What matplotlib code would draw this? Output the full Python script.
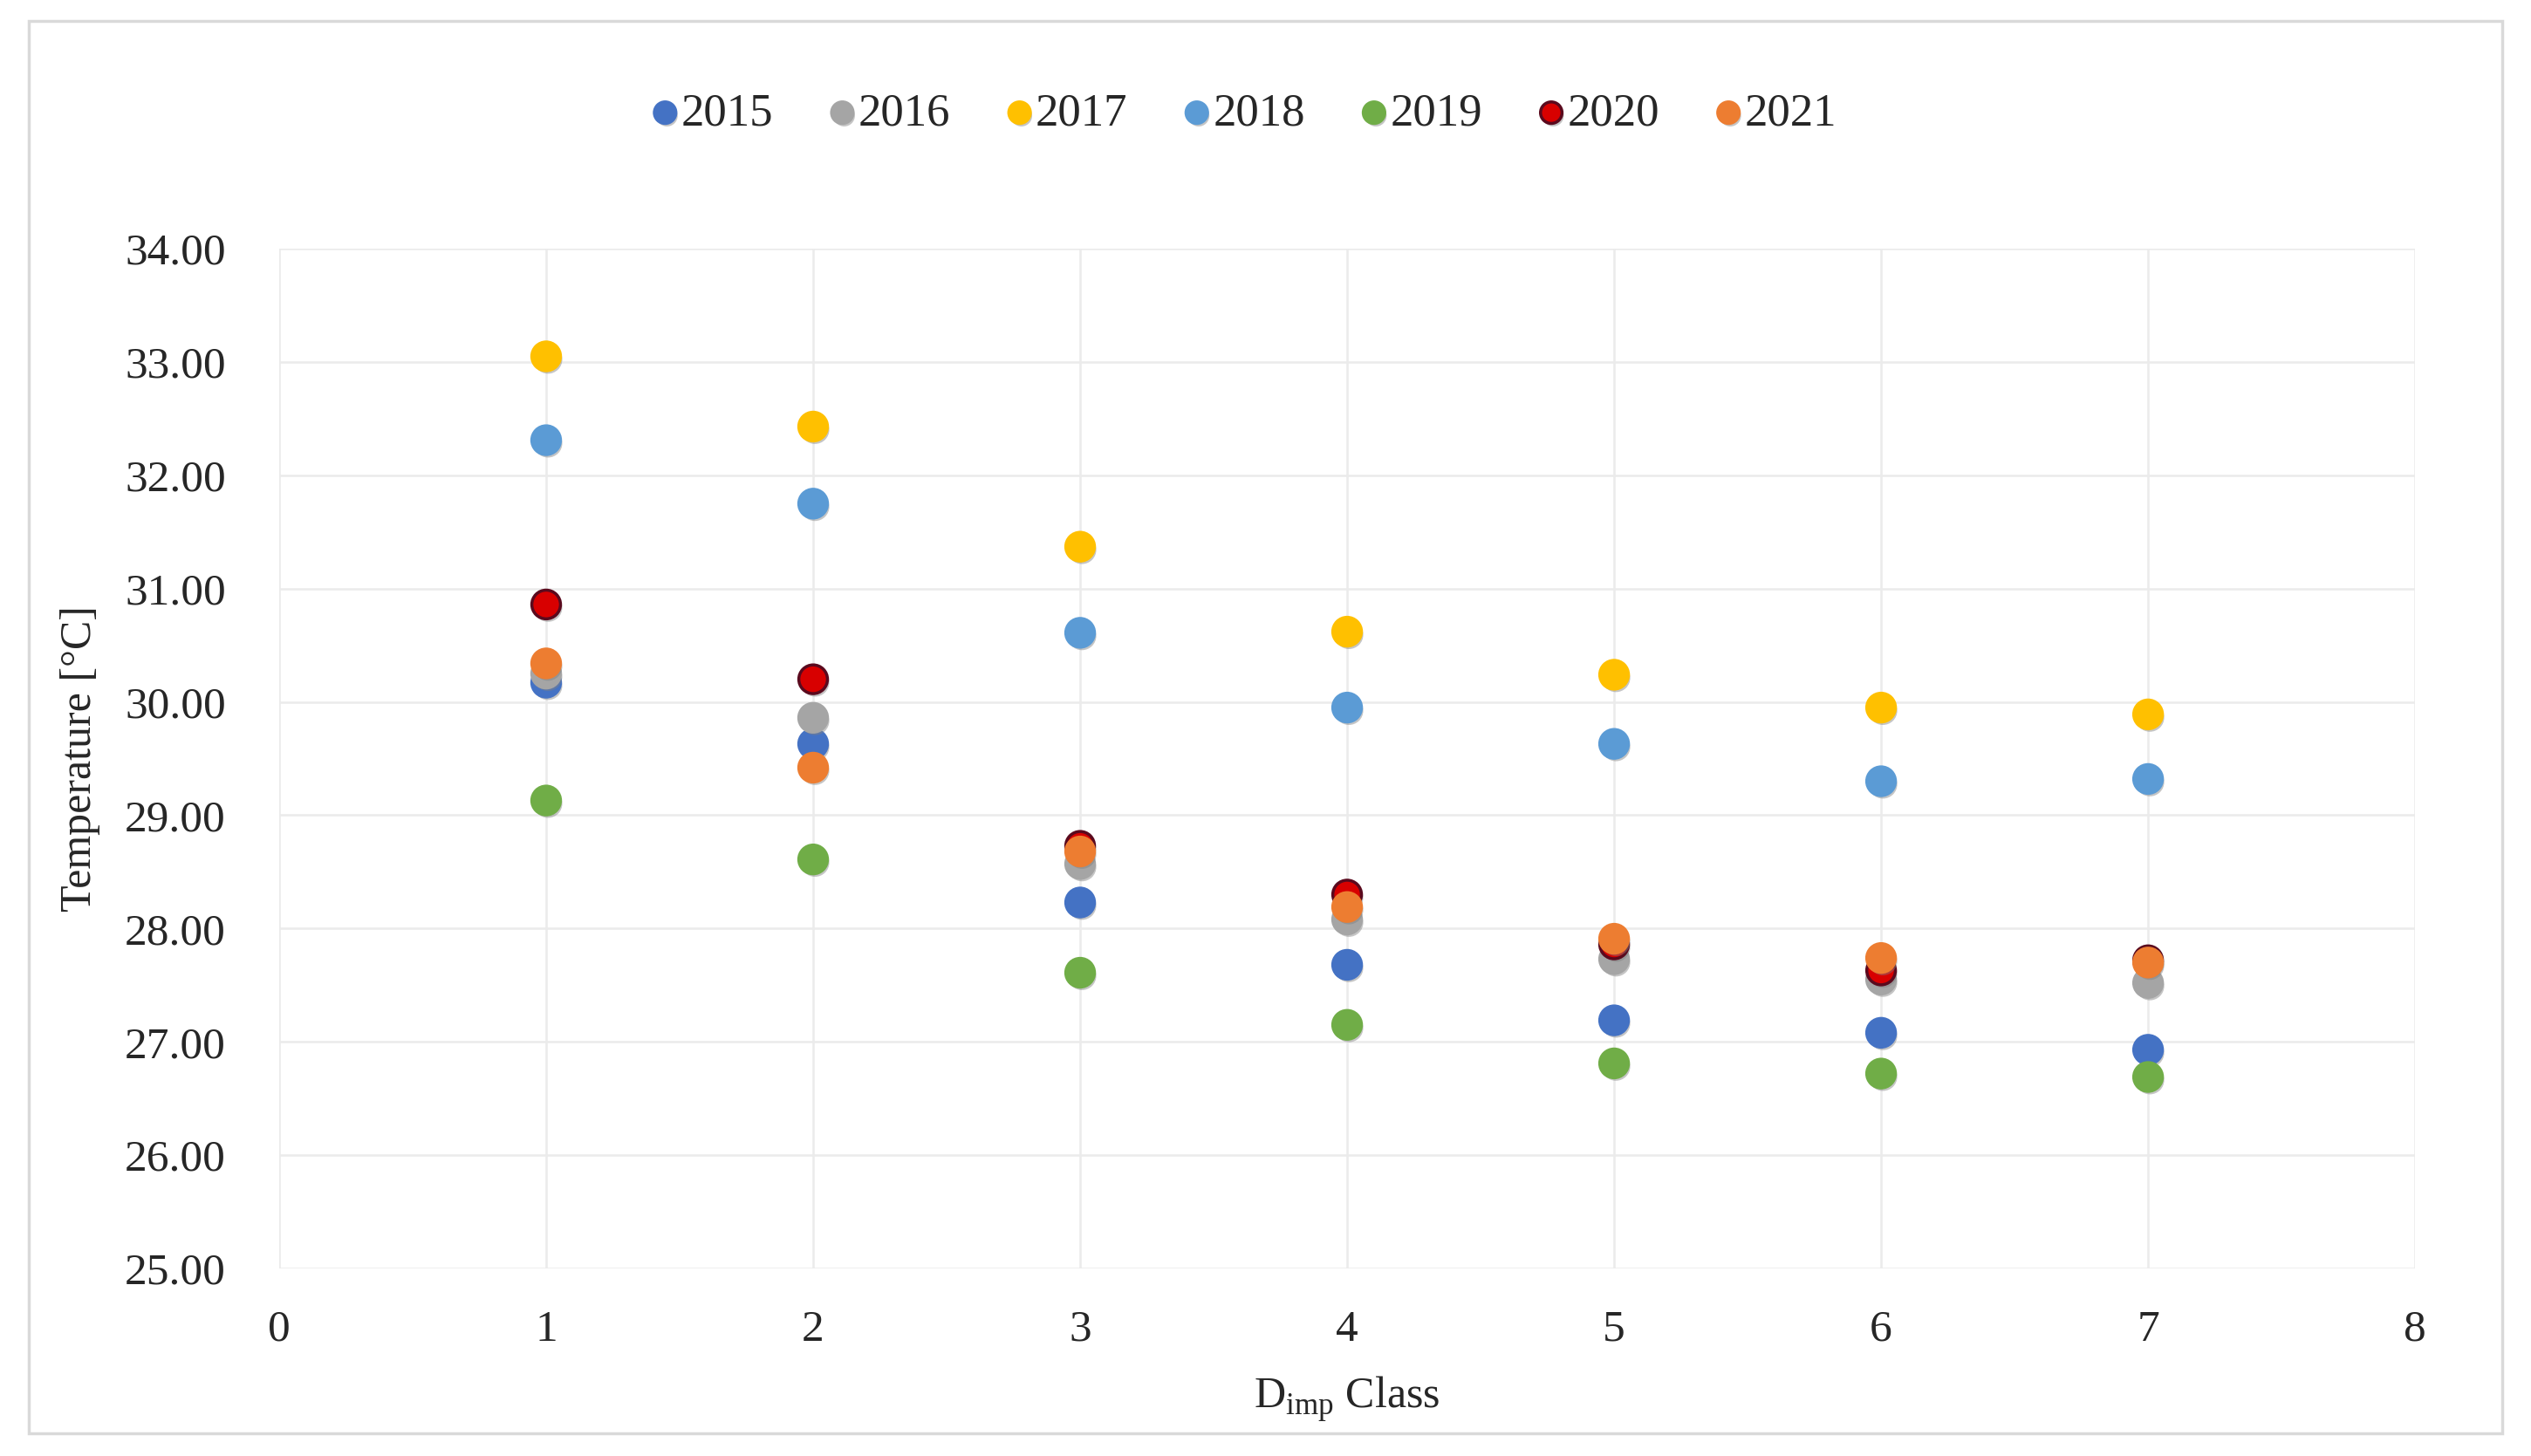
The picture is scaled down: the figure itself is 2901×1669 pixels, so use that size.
import matplotlib
matplotlib.use("Agg")
import matplotlib.pyplot as plt
import matplotlib.patheffects as pe
from matplotlib.patches import Rectangle

plt.rcParams['font.family'] = ['Liberation Serif', 'DejaVu Serif']

classes = [1, 2, 3, 4, 5, 6, 7]
years = ["2015", "2016", "2017", "2018", "2019", "2020", "2021"]
t2015 = [30.17, 29.63, 28.23, 27.68, 27.19, 27.08, 26.93]
t2016 = [30.25, 29.86, 28.57, 28.08, 27.73, 27.55, 27.52]
t2017 = [33.05, 32.43, 31.37, 30.62, 30.24, 29.95, 29.89]
t2018 = [32.31, 31.75, 30.61, 29.95, 29.63, 29.30, 29.32]
t2019 = [29.13, 28.61, 27.61, 27.15, 26.81, 26.72, 26.69]
t2020 = [30.86, 30.20, 28.73, 28.30, 27.86, 27.63, 27.72]
t2021 = [30.34, 29.42, 28.68, 28.19, 27.91, 27.74, 27.70]
series = [t2015, t2016, t2017, t2018, t2019, t2020, t2021]
face = ["#4472C4", "#A5A5A5", "#FFC000", "#5B9BD5", "#70AD47", "#D80000", "#ED7D31"]
edge = ["#4472C4", "#A5A5A5", "#FFC000", "#5B9BD5", "#70AD47", "#5A0A1E", "#ED7D31"]
yticks = [25, 26, 27, 28, 29, 30, 31, 32, 33, 34]
xticks = [0, 1, 2, 3, 4, 5, 6, 7, 8]

fig = plt.figure(figsize=(29.01, 16.69), dpi=100)
fig.patches.append(Rectangle((33 / 2901, 1 - 1643 / 1669), (2868 - 33) / 2901, (1643 - 24) / 1669,
                             transform=fig.transFigure, fill=False, edgecolor="#D9D9D9", linewidth=2.5))
ax = fig.add_axes([0.1103, 0.1288, 0.9542 - 0.1103, 0.8292 - 0.1288])

shadow = [pe.SimplePatchShadow(offset=(1.5, -2.5), shadow_rgbFace="#808080", alpha=0.45), pe.Normal()]
for yr, vals, fc, ec in zip(years, series, face, edge):
    sc = ax.scatter(classes, vals, s=560, facecolor=fc, edgecolor=ec, linewidth=2.5, label=yr, zorder=3)
    sc.set_path_effects(shadow)

ax.set_xlim(0, 8)
ax.set_ylim(25, 34)
ax.set_xticks(xticks)
ax.set_yticks(yticks)
ax.set_yticklabels([f"{v:.2f}" for v in yticks])
ax.grid(True, color="#EBEBEB", linewidth=1.8, zorder=0)
ax.set_axisbelow(True)
for s in ax.spines.values():
    s.set_visible(False)
ax.tick_params(axis="both", length=0, labelsize=37, colors="#262626")
ax.tick_params(axis="y", pad=44)
ax.tick_params(axis="x", pad=34)

ax.set_xlabel(r"D$_{\mathregular{imp}}$ Class", fontsize=36, color="#262626", labelpad=20)
ax.set_ylabel("Temperature [°C]", fontsize=36, color="#262626", labelpad=20)

leg = fig.legend(loc="center", bbox_to_anchor=(0.4915, 1 - 130 / 1669), ncol=7, frameon=False,
                 fontsize=38, handlelength=0.6, handletextpad=0.05, columnspacing=1.2,
                 markerscale=0.75, labelcolor="#262626")

fig.savefig("out.png", dpi=100)
